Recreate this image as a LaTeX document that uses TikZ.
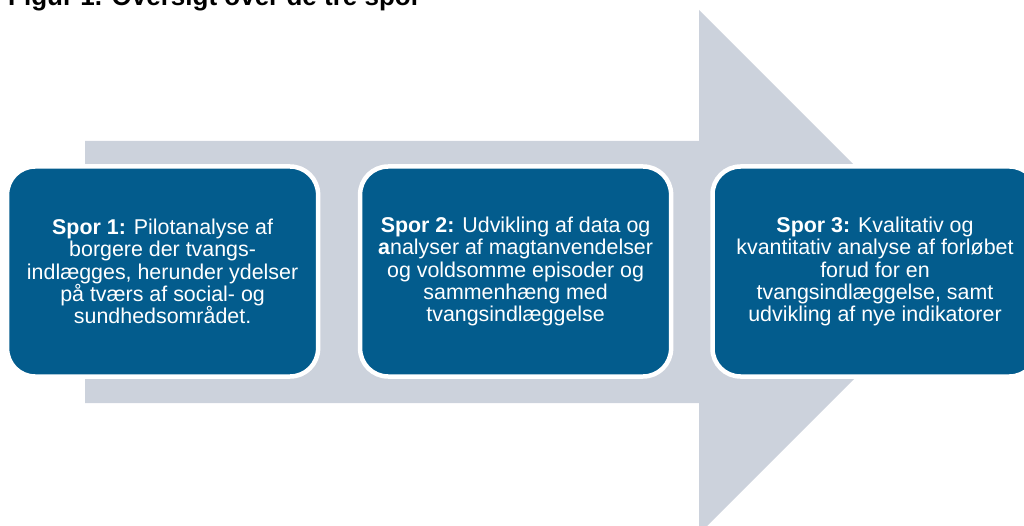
\documentclass[tikz,border=0pt]{standalone}
\usepackage{fontspec}
\setmainfont{Liberation Sans}
\usetikzlibrary{positioning}
\definecolor{sporblue}{RGB}{3,92,141}
\definecolor{pilgray}{RGB}{204,210,220}

\begin{document}
\begin{tikzpicture}[x=1pt,y=-1pt,
  spor/.style={rounded corners=28pt,fill=sporblue,draw=white,line width=4.5pt,
    minimum width=311pt,minimum height=210pt,outer sep=0pt,align=center,
    text=white,font=\fontsize{21.4}{22.2}\selectfont}]
\useasboundingbox (0,0) rectangle (1024,526);
\node [anchor=base west,inner sep=0pt,font=\fontsize{26}{30}\selectfont\bfseries] (titel) at (8,6) {Figur 1. Oversigt over de tre spor};
\fill [pilgray] (85,141) -- (699,141) -- (699,10) -- (961,272) -- (699,534) -- (699,403) -- (85,403) -- cycle;
\node [spor] (spor1) at (162.6,271.5) {\textbf{Spor 1:} Pilotanalyse af\\ borgere der tvangs-\\ indlægges, herunder ydelser\\ på tværs af social- og\\ sundhedsområdet.};
\node [spor,right=42pt of spor1] (spor2) {\textbf{Spor 2:} Udvikling af data og\\ \textbf{a}nalyser af magtanvendelser\\ og voldsomme episoder og\\ sammenhæng med\\ tvangsindlæggelse};
\node [spor,minimum width=325pt,right=41.4pt of spor2] (spor3) {\textbf{Spor 3:} Kvalitativ og\\ kvantitativ analyse af forløbet\\ forud for en\\ tvangsindlæggelse, samt\\ udvikling af nye indikatorer};
\end{tikzpicture}
\end{document}
